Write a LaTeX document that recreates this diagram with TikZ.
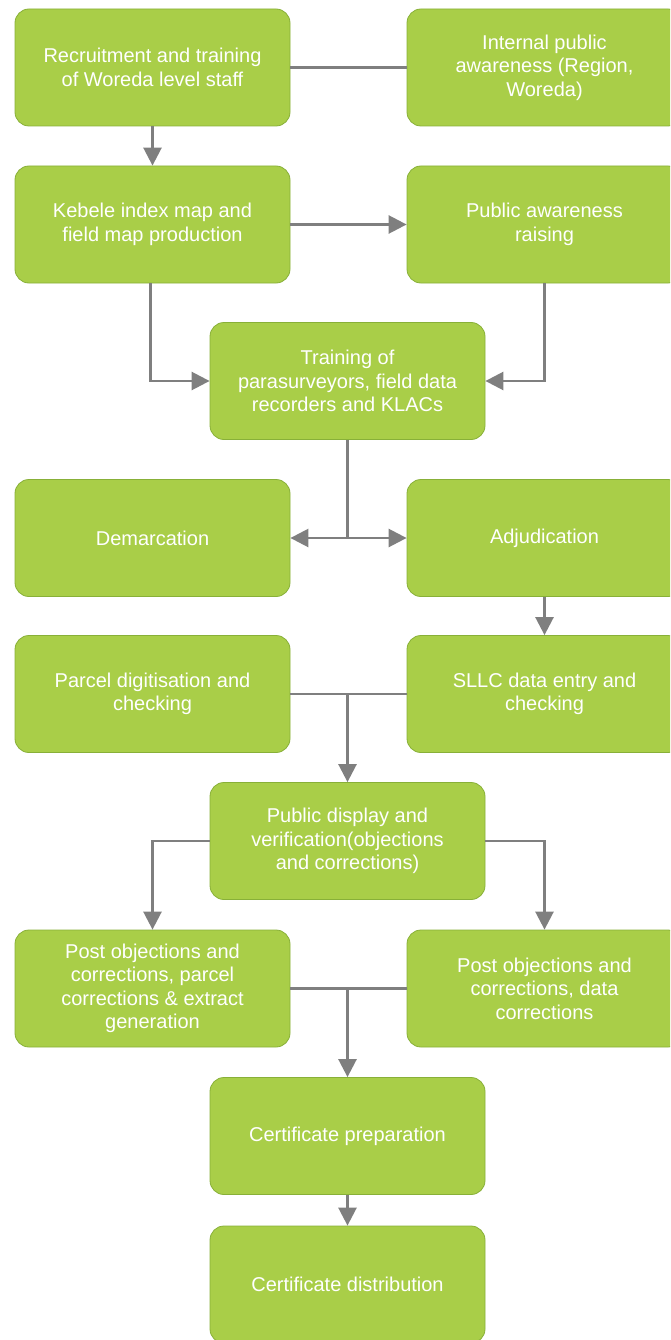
\documentclass[tikz,border=0pt]{standalone}
\usepackage{fontspec}
\setmainfont{Liberation Sans}
\usetikzlibrary{arrows.meta,calc}
\definecolor{boxgreen}{RGB}{169,206,72}
\definecolor{boxedge}{RGB}{136,176,56}
\definecolor{linkgray}{RGB}{127,127,127}

\begin{document}
\begin{tikzpicture}[x=1pt,y=-1pt,
  box/.style={draw=boxedge,line width=0.8pt,fill=boxgreen,rounded corners=14pt,
    minimum width=275pt,minimum height=117pt,inner sep=0pt,align=center,
    text=white,font=\fontsize{20}{23.5}\selectfont},
  link/.style={draw=linkgray,line width=2.6pt},
  arr/.style={link,-{Triangle[length=18pt,width=18pt]}}]
\useasboundingbox (0,0) rectangle (670,1340);
\clip (0,0) rectangle (670,1340);
% boxes
\node[box] (rec) at (152.5,67.5) {Recruitment and training\\of Woreda level staff};
\node[box] (ipa) at (544.5,67.5) {Internal public\\awareness (Region,\\Woreda)};
\node[box] (keb) at (152.5,224.5) {Kebele index map and\\field map production};
\node[box] (pub) at (544.5,224.5) {Public awareness\\raising};
\node[box] (train) at (347.5,381) {Training of\\parasurveyors, field data\\recorders and KLACs};
\node[box] (dem) at (152.5,538) {Demarcation};
\node[box] (adj) at (544.5,538) {Adjudication};
\node[box] (parcel) at (152.5,694) {Parcel digitisation and\\checking};
\node[box] (sllc) at (544.5,694) {SLLC data entry and\\checking};
\node[box] (disp) at (347.5,841) {Public display and\\verification(objections\\and corrections)};
\node[box] (postp) at (152.5,988.5) {Post objections and\\corrections, parcel\\corrections \& extract\\generation};
\node[box] (postd) at (544.5,988.5) {Post objections and\\corrections, data\\corrections};
\node[box] (prep) at (347.5,1136) {Certificate preparation};
\node[box] (dist) at (347.5,1284.5) {Certificate distribution};
% junctions
\coordinate (j1) at (347.5,538);
\coordinate (j2) at (347.5,694);
\coordinate (j3) at (347.5,988.5);
% connectors
\draw[link] (rec) -- (ipa);
\draw[arr] (rec) -- (keb);
\draw[arr] (keb) -- (pub);
\draw[arr] ([xshift=-2pt]keb.south) |- (train.west);
\draw[arr] (pub.south) |- (train.east);
\draw[link] (train) -- (j1);
\draw[arr] (j1) -- (dem);
\draw[arr] (j1) -- (adj);
\draw[arr] (adj) -- (sllc);
\draw[link] (parcel) -- (sllc);
\draw[arr] (j2) -- (disp);
\draw[arr] (disp.west) -| (postp.north);
\draw[arr] (disp.east) -| (postd.north);
\draw[link] (postp) -- (postd);
\draw[arr] (j3) -- (prep);
\draw[arr] (prep) -- (dist);
\end{tikzpicture}
\end{document}
